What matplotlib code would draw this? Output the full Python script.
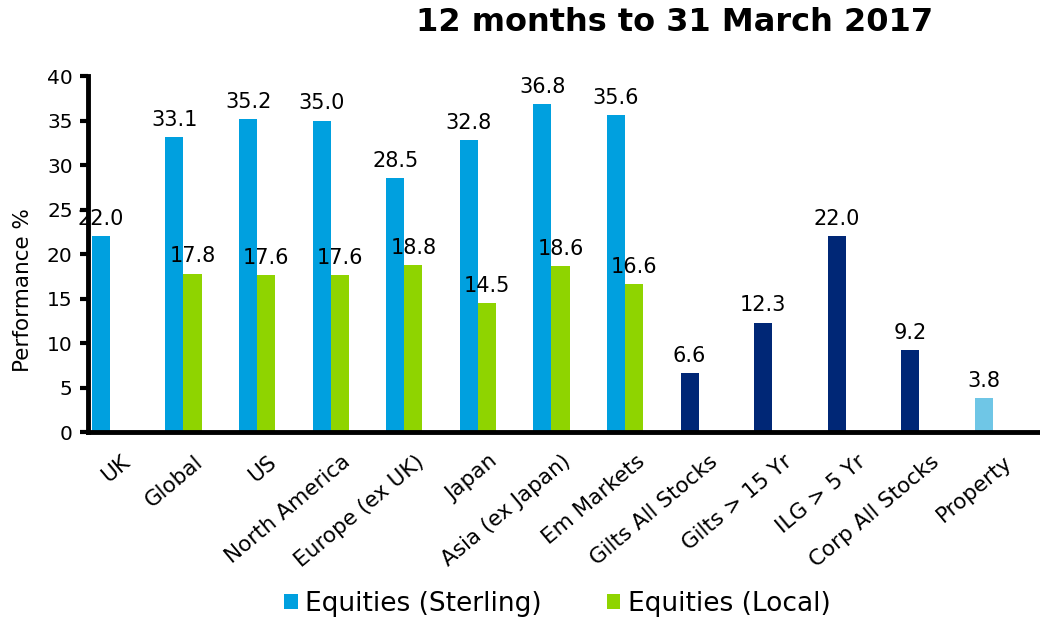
import matplotlib
matplotlib.use("Agg")
import matplotlib.pyplot as plt
import matplotlib.transforms as mtransforms
import numpy as np

categories = ["UK", "Global", "US", "North America", "Europe (ex UK)", "Japan",
              "Asia (ex Japan)", "Em Markets", "Gilts All Stocks", "Gilts > 15 Yr",
              "ILG > 5 Yr", "Corp All Stocks", "Property"]
sterling = [22.0, 33.1, 35.2, 35.0, 28.5, 32.8, 36.8, 35.6]
local = [None, 17.8, 17.6, 17.6, 18.8, 14.5, 18.6, 16.6]
bonds = [6.6, 12.3, 22.0, 9.2]
prop = [3.8]

c_ster = "#00a0df"
c_loc = "#8fd400"
c_bond = "#002776"
c_prop = "#6fc6e6"

fig = plt.figure(figsize=(10.4, 6.21), dpi=100)
ax = fig.add_axes([0.0846, 0.3043, 0.92, 0.5733])

x = np.arange(len(categories))
w = 0.245
off1 = -0.325
off2 = off1 + w

xs = x[:len(sterling)]
b1 = ax.bar(xs + off1, sterling, w, color=c_ster, label="Equities (Sterling)")
lx = [xs[i] + off2 for i in range(len(local)) if local[i] is not None]
lv = [v for v in local if v is not None]
b2 = ax.bar(lx, lv, w, color=c_loc, label="Equities (Local)")
xb = x[len(sterling):len(sterling) + len(bonds)]
b3 = ax.bar(xb + off1, bonds, w, color=c_bond)
xp = x[-len(prop):]
b4 = ax.bar(xp + off1, prop, w, color=c_prop)

for bars in (b1, b2, b3, b4):
    for r in bars:
        ax.text(r.get_x() + r.get_width() / 2, r.get_height() + 0.8,
                "%.1f" % r.get_height(), ha="center", va="bottom", fontsize=15)

ax.set_xlim(-0.5, len(categories) - 0.5)
ax.set_ylim(0, 40)
ax.set_yticks(range(0, 41, 5))
ax.tick_params(axis="y", labelsize=14.5, width=3, length=6, direction="out", pad=5)
ax.set_xticks(x)
ax.set_xticklabels(categories, rotation=40, ha="right", rotation_mode="anchor",
                   fontsize=15.5)
ax.tick_params(axis="x", length=0, pad=14)
shift = mtransforms.ScaledTranslation(-0.045, 0, fig.dpi_scale_trans)
for lab in ax.get_xticklabels():
    lab.set_transform(lab.get_transform() + shift)
for s in ("top", "right"):
    ax.spines[s].set_visible(False)
for s in ("left", "bottom"):
    ax.spines[s].set_linewidth(3.5)
ax.set_ylabel("Performance %", fontsize=15.5)
ax.yaxis.set_label_coords(-0.057, 0.40)

fig.text(0.649, 0.963, "12 months to 31 March 2017", ha="center", va="center",
         fontsize=23, fontweight="bold")

fig.legend(handles=[b1, b2], loc="center", bbox_to_anchor=(0.536, 0.027), ncol=2,
           frameon=False, fontsize=19, handlelength=0.5, handleheight=0.5,
           handletextpad=0.3, columnspacing=2.45)

fig.savefig("out.png", dpi=100)
